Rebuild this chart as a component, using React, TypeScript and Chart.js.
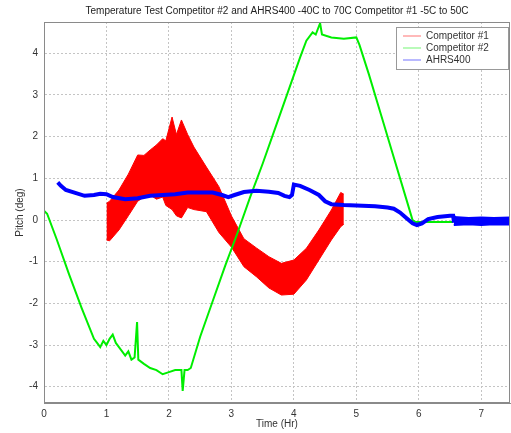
import React, { useEffect, useRef } from "react";
import { Chart, registerables } from "chart.js";

Chart.register(...registerables);

const TITLE = "Temperature Test Competitor #2 and AHRS400 -40C to 70C Competitor #1 -5C to 50C";
const X_LABEL = "Time (Hr)";
const Y_LABEL = "Pitch (deg)";
const SERIES_NAMES = ["Competitor #1", "Competitor #2", "AHRS400"];
const SERIES_COLORS = ["#ff0000", "#00ee00", "#0000ff"];
const X_RANGE = [0, 7.46];
const Y_RANGE = [-4.39, 4.75];

// Competitor #1 : noisy band (upper / lower envelope)
const comp1X = [1.0, 1.05, 1.2, 1.35, 1.5, 1.6, 1.7, 1.8, 1.9, 1.95, 2.05, 2.12, 2.2, 2.3, 2.4, 2.6, 2.8, 3.0, 3.2, 3.4, 3.6, 3.8, 4.0, 4.2, 4.4, 4.6, 4.75, 4.8];
const comp1Upper = [0.4, 0.45, 0.72, 1.1, 1.56, 1.55, 1.68, 1.8, 1.95, 1.9, 2.47, 2.05, 2.4, 2.05, 1.75, 1.27, 0.8, 0.1, -0.45, -0.67, -0.88, -1.04, -0.96, -0.68, -0.24, 0.24, 0.66, 0.62];
const comp1Lower = [-0.48, -0.5, -0.24, 0.1, 0.45, 0.55, 0.6, 0.5, 0.55, 0.35, 0.25, 0.1, 0.05, 0.3, 0.25, 0.2, -0.3, -0.65, -1.12, -1.36, -1.63, -1.8, -1.78, -1.44, -0.96, -0.48, -0.16, -0.1];

// Competitor #2
const comp2X = [0.0, 0.05, 0.2, 0.4, 0.6, 0.8, 0.85, 0.9, 0.95, 1.0, 1.05, 1.1, 1.15, 1.2, 1.3, 1.35, 1.4, 1.45, 1.49, 1.51, 1.6, 1.7, 1.8, 1.9, 2.0, 2.1, 2.2, 2.22, 2.25, 2.3, 2.35, 2.5, 2.7, 2.9, 3.1, 3.3, 3.5, 3.7, 3.9, 4.1, 4.2, 4.3, 4.35, 4.42, 4.45, 4.6, 4.8, 5.0, 5.05, 5.2, 5.4, 5.6, 5.8, 5.9, 5.95, 6.2, 6.55];
const comp2Y = [0.22, 0.15, -0.45, -1.3, -2.1, -2.85, -2.95, -3.05, -2.9, -3.0, -2.85, -2.75, -2.95, -3.05, -3.25, -3.15, -3.35, -3.3, -2.45, -3.35, -3.45, -3.55, -3.6, -3.7, -3.65, -3.6, -3.6, -4.1, -3.6, -3.6, -3.55, -2.8, -1.95, -1.1, -0.3, 0.55, 1.35, 2.2, 3.05, 3.9, 4.3, 4.5, 4.45, 4.72, 4.45, 4.38, 4.35, 4.38, 4.2, 3.5, 2.5, 1.5, 0.5, 0.0, -0.05, -0.05, -0.05];

// AHRS400
const ahrsX = [0.22, 0.27, 0.35, 0.5, 0.65, 0.8, 0.9, 1.0, 1.1, 1.3, 1.5, 1.7, 1.9, 2.1, 2.3, 2.5, 2.7, 2.85, 2.95, 3.05, 3.2, 3.4, 3.6, 3.75, 3.85, 3.93, 3.97, 4.0, 4.1, 4.25, 4.4, 4.5, 4.6, 4.8, 5.0, 5.3, 5.5, 5.6, 5.7, 5.8, 5.9, 5.97, 6.05, 6.15, 6.3, 6.5, 6.55, 6.56, 7.46];
const ahrsY = [0.9, 0.82, 0.72, 0.65, 0.58, 0.6, 0.63, 0.62, 0.55, 0.5, 0.52, 0.58, 0.6, 0.62, 0.66, 0.66, 0.66, 0.6, 0.55, 0.6, 0.67, 0.7, 0.68, 0.65, 0.58, 0.55, 0.6, 0.85, 0.82, 0.72, 0.6, 0.45, 0.38, 0.36, 0.35, 0.33, 0.3, 0.27, 0.18, 0.05, -0.08, -0.12, -0.08, 0.02, 0.07, 0.1, 0.1, -0.02, -0.02];
// AHRS400 noisy tail band
const ahrsTailX = [6.56, 6.8, 7.0, 7.2, 7.46];
const ahrsTailUpper = [0.07, 0.05, 0.06, 0.05, 0.06];
const ahrsTailLower = [-0.12, -0.1, -0.12, -0.1, -0.11];

const pts = (xs: number[], ys: number[]) => xs.map((x, i) => ({ x, y: ys[i] }));

const titlePlugin = {
  id: "mTitle",
  afterDraw(chart: any) {
    const { ctx, chartArea } = chart;
    ctx.save();
    ctx.font = "10px 'Liberation Sans', Arial, sans-serif";
    ctx.fillStyle = "#222";
    ctx.textAlign = "center";
    ctx.textBaseline = "middle";
    ctx.fillText(TITLE, (chartArea.left + chartArea.right) / 2, 11);
    ctx.restore();
  },
};

const framePlugin = {
  id: "mFrame",
  afterDatasetsDraw(chart: any) {
    const { ctx, chartArea } = chart;
    ctx.save();
    ctx.strokeStyle = "#8a8a8a";
    ctx.lineWidth = 1;
    ctx.strokeRect(chartArea.left + 0.5, chartArea.top + 0.5, chartArea.right - chartArea.left - 1, chartArea.bottom - chartArea.top - 1);
    ctx.restore();
  },
};

const legendPlugin = {
  id: "mLegend",
  afterDraw(chart: any) {
    const { ctx, chartArea } = chart;
    const w = 112, h = 42;
    const x0 = chartArea.right - w - 2;
    const y0 = chartArea.top + 5;
    ctx.save();
    ctx.fillStyle = "#fff";
    ctx.fillRect(x0, y0, w, h);
    ctx.strokeStyle = "#999";
    ctx.lineWidth = 1;
    ctx.strokeRect(x0 + 0.5, y0 + 0.5, w, h);
    ctx.font = "10px 'Liberation Sans', Arial, sans-serif";
    ctx.textBaseline = "middle";
    ctx.textAlign = "left";
    SERIES_NAMES.forEach((name, i) => {
      const yy = y0 + 9 + i * 12;
      ctx.strokeStyle = SERIES_COLORS[i];
      ctx.globalAlpha = 0.55;
      ctx.beginPath();
      ctx.moveTo(x0 + 7, yy);
      ctx.lineTo(x0 + 25, yy);
      ctx.stroke();
      ctx.globalAlpha = 1;
      ctx.fillStyle = "#333";
      ctx.fillText(name, x0 + 30, yy);
    });
    ctx.restore();
  },
};

export default function App() {
  const ref = useRef<HTMLCanvasElement>(null);
  useEffect(() => {
    document.body.style.margin = "0";
    const canvas = ref.current!;
    const tickFont = { size: 10, family: "'Liberation Sans', Arial, sans-serif" };
    const gridOpts = { color: "#c4c4c4", drawTicks: false };
    const chart = new Chart(canvas, {
      type: "line",
      data: {
        datasets: [
          {
            label: SERIES_NAMES[2],
            data: pts(ahrsX, ahrsY),
            borderColor: SERIES_COLORS[2],
            borderWidth: 4,
            pointRadius: 0,
            fill: false,
            order: 0,
          },
          {
            label: SERIES_NAMES[2] + " tail",
            data: pts(ahrsTailX, ahrsTailUpper),
            borderColor: SERIES_COLORS[2],
            backgroundColor: SERIES_COLORS[2],
            borderWidth: 2,
            pointRadius: 0,
            fill: "+1",
            order: 1,
          },
          {
            label: SERIES_NAMES[2] + " tail lower",
            data: pts(ahrsTailX, ahrsTailLower),
            borderColor: SERIES_COLORS[2],
            borderWidth: 2,
            pointRadius: 0,
            fill: false,
            order: 1,
          },
          {
            label: SERIES_NAMES[1],
            data: pts(comp2X, comp2Y),
            borderColor: SERIES_COLORS[1],
            borderWidth: 2,
            pointRadius: 0,
            fill: false,
            order: 2,
          },
          {
            label: SERIES_NAMES[0],
            data: pts(comp1X, comp1Upper),
            borderColor: SERIES_COLORS[0],
            backgroundColor: SERIES_COLORS[0],
            borderWidth: 1,
            pointRadius: 0,
            fill: "+1",
            order: 3,
          },
          {
            label: SERIES_NAMES[0] + " lower",
            data: pts(comp1X, comp1Lower),
            borderColor: SERIES_COLORS[0],
            borderWidth: 1,
            pointRadius: 0,
            fill: false,
            order: 3,
          },
        ],
      },
      options: {
        animation: false,
        responsive: false,
        maintainAspectRatio: false,
        layout: { padding: { top: 22, right: 1, left: 0, bottom: 0 } },
        plugins: { legend: { display: false }, title: { display: false }, tooltip: { enabled: false } },
        elements: { line: { tension: 0 } },
        scales: {
          x: {
            type: "linear",
            min: X_RANGE[0],
            max: X_RANGE[1],
            ticks: { stepSize: 1, includeBounds: false, font: tickFont, color: "#333", padding: 5, maxRotation: 0 },
            grid: gridOpts,
            border: { dash: [2, 2], color: "#8a8a8a" },
            title: { display: true, text: X_LABEL, font: tickFont, color: "#333", padding: { top: 2, bottom: 3 } },
            afterFit: (s: any) => { s.height = 30; },
          },
          y: {
            type: "linear",
            min: Y_RANGE[0],
            max: Y_RANGE[1],
            ticks: { stepSize: 1, includeBounds: false, font: tickFont, color: "#333", padding: 6 },
            grid: gridOpts,
            border: { dash: [2, 2], color: "#8a8a8a" },
            title: { display: true, text: Y_LABEL, font: tickFont, color: "#333", padding: { top: 14, bottom: 2 } },
            afterFit: (s: any) => { s.width = 44; },
          },
        },
      },
      plugins: [titlePlugin, framePlugin, legendPlugin],
    } as any);
    return () => chart.destroy();
  }, []);
  return (
    <div style={{ width: 511, height: 433 }}>
      <canvas ref={ref} width={511} height={433} style={{ display: "block" }} />
    </div>
  );
}
